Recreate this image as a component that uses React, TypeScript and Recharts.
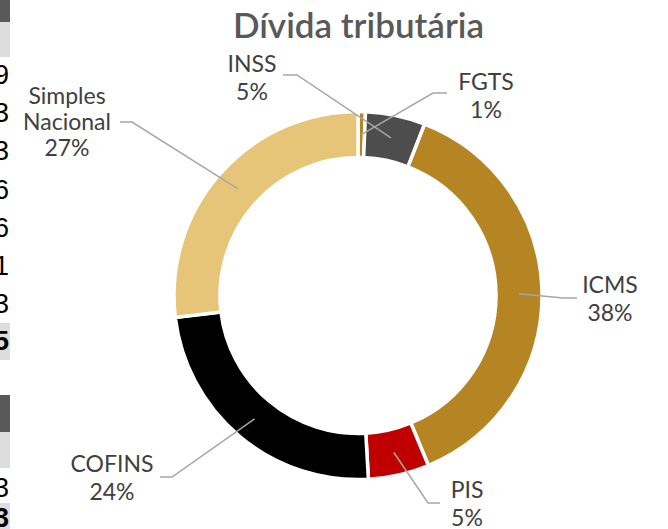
import { PieChart, Pie, Cell } from 'recharts'

// Dívida tributária — participação por tributo (%)
const categories = ['FGTS', 'INSS', 'ICMS', 'PIS', 'COFINS', 'Simples Nacional']
const values = [0.65, 5.25, 37.85, 5.35, 24.0, 26.9]
const labelLines = [['FGTS'], ['INSS'], ['ICMS'], ['PIS'], ['COFINS'], ['Simples', 'Nacional']]
const colors = ['#B58523', '#4D4D4D', '#B58523', '#C00000', '#000000', '#E7C578']

// recortes da planilha visíveis na borda esquerda
const edgeDigits = ['9', '3', '3', '6', '6', '1', '3']

const data = categories.map((name, i) => ({ name, value: values[i] }))

/** Layout dos rótulos: centro do texto, baseline da 1ª linha, cotovelo e fim da linha guia. */
const LABEL_LAYOUT = [
  { x: 486, y: 90, elbow: [433, 93], end: [447, 93] },
  { x: 252, y: 72, elbow: [297, 75], end: [283, 75] },
  { x: 610, y: 293, elbow: [563, 298], end: [577, 298] },
  { x: 467, y: 498, elbow: [428, 503], end: [440, 503] },
  { x: 112, y: 472, elbow: [172, 477], end: [160, 477] },
  { x: 67, y: 104, elbow: [132, 122], end: [120, 122] },
]

const FONT = 'Lato, "Open Sans", sans-serif'
const EDGE_FONT = 'Liberation Sans, Arial, sans-serif'
const RAD = Math.PI / 180

function SliceLabel(props: any) {
  const { cx, cy, midAngle, innerRadius, outerRadius, percent, index } = props
  const lay = LABEL_LAYOUT[index]
  const r = (innerRadius + outerRadius) / 2
  const sx = cx + r * Math.cos(-midAngle * RAD)
  const sy = cy + r * Math.sin(-midAngle * RAD)
  const lines = [...labelLines[index], `${Math.round(percent * 100)}%`]
  const lh = index === 5 ? 26 : 28
  return (
    <g>
      <polyline
        points={`${sx},${sy} ${lay.elbow[0]},${lay.elbow[1]} ${lay.end[0]},${lay.end[1]}`}
        fill="none"
        stroke="#A6A6A6"
        strokeWidth={1.5}
      />
      <text x={lay.x} y={lay.y} textAnchor="middle" fill="#404040" fontSize={23} fontFamily={FONT}>
        {lines.map((l, i) => (
          <tspan key={i} x={lay.x} dy={i === 0 ? 0 : lh}>{l}</tspan>
        ))}
      </text>
    </g>
  )
}

export default function App() {
  return (
    <div style={{ position: 'fixed', left: 0, top: 0, width: 668, height: 529, background: '#fff', overflow: 'hidden' }}>
      {/* borda da planilha */}
      <div style={{ position: 'absolute', left: 0, top: 0, width: 10, height: 22, background: '#595959' }} />
      <div style={{ position: 'absolute', left: 0, top: 22, width: 10, height: 35, background: '#DDDDDD' }} />
      {edgeDigits.map((d, i) => (
        <div
          key={i}
          style={{ position: 'absolute', right: 659, top: 60 + i * 38.2, fontSize: 27, lineHeight: '30px', fontFamily: EDGE_FONT, color: '#000' }}
        >
          {d}
        </div>
      ))}
      <div style={{ position: 'absolute', left: 0, top: 323, width: 10, height: 37, background: '#DDDDDD' }} />
      <div style={{ position: 'absolute', right: 659, top: 326, fontSize: 27, lineHeight: '30px', fontWeight: 700, fontFamily: EDGE_FONT }}>5</div>
      <div style={{ position: 'absolute', left: 0, top: 395, width: 10, height: 37, background: '#595959' }} />
      <div style={{ position: 'absolute', left: 0, top: 432, width: 10, height: 36, background: '#DDDDDD' }} />
      <div style={{ position: 'absolute', right: 659, top: 473, fontSize: 27, lineHeight: '30px', fontFamily: EDGE_FONT }}>3</div>
      <div style={{ position: 'absolute', left: 0, top: 503, width: 10, height: 26, background: '#DDDDDD' }} />
      <div style={{ position: 'absolute', right: 659, top: 503, fontSize: 27, lineHeight: '30px', fontWeight: 700, fontFamily: EDGE_FONT }}>3</div>

      <div
        style={{ position: 'absolute', left: 20, width: 677, top: 3, textAlign: 'center', fontFamily: FONT, fontSize: 35, fontWeight: 600, color: '#595959' }}
      >
        Dívida tributária
      </div>

      <div style={{ position: 'absolute', left: 0, top: 0 }}>
        <PieChart width={668} height={529} margin={{ top: 0, right: 0, bottom: 0, left: 0 }}>
          <Pie
            data={data}
            dataKey="value"
            nameKey="name"
            cx={358}
            cy={295.5}
            innerRadius={138}
            outerRadius={184}
            startAngle={90}
            endAngle={-270}
            stroke="#FFFFFF"
            strokeWidth={3.5}
            label={SliceLabel}
            labelLine={false}
            isAnimationActive={false}
          >
            {data.map((d, i) => (
              <Cell key={d.name} fill={colors[i]} />
            ))}
          </Pie>
        </PieChart>
      </div>
    </div>
  )
}
